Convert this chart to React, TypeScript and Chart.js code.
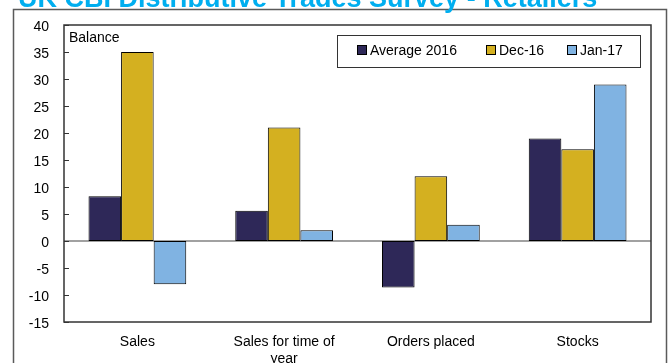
import React, { useEffect, useRef } from "react";
import { Chart, registerables } from "chart.js";

Chart.register(...registerables);

const categories: (string | string[])[] = ["Sales", ["Sales for time of", "year"], "Orders placed", "Stocks"];
const average2016 = [8.3, 5.6, -8.6, 19];
const dec16 = [35, 21, 12, 17];
const jan17 = [-8, 2, 3, 29];
const seriesNames = ["Average 2016", "Dec-16", "Jan-17"];
const seriesColors = ["#2E2858", "#D4B020", "#80B3E2"];
const titleText = "UK CBI Distributive Trades Survey - Retailers";
const yTitle = "Balance";

const FONT = "'Liberation Sans', Arial, sans-serif";

const decorPlugin = {
  id: "decor",
  beforeDatasetsDraw(chart: any) {
    const { ctx, chartArea, scales } = chart;
    const y0 = scales.y.getPixelForValue(0);
    ctx.save();
    ctx.strokeStyle = "#444";
    ctx.lineWidth = 1.2;
    ctx.beginPath();
    ctx.moveTo(chartArea.left, y0);
    ctx.lineTo(chartArea.right, y0);
    ctx.stroke();
    ctx.restore();
  },
  afterDraw(chart: any) {
    const { ctx, chartArea, scales } = chart;
    ctx.save();
    // outer frame
    ctx.strokeStyle = "#5a5a5a";
    ctx.lineWidth = 1.5;
    ctx.strokeRect(13.5, 9.5, 653, 420);
    // title (clipped at top)
    ctx.fillStyle = "#00AEEF";
    ctx.font = `bold 27px ${FONT}`;
    ctx.textBaseline = "alphabetic";
    ctx.textAlign = "left";
    ctx.fillText(titleText, 18, 6.5);
    // plot border
    ctx.strokeStyle = "#333";
    ctx.lineWidth = 1.5;
    ctx.strokeRect(chartArea.left, chartArea.top, chartArea.right - chartArea.left, chartArea.bottom - chartArea.top);
    // inner ticks
    ctx.lineWidth = 1;
    scales.y.ticks.forEach((t: any) => {
      const py = Math.round(scales.y.getPixelForValue(t.value)) + 0.5;
      ctx.beginPath();
      ctx.moveTo(chartArea.left, py);
      ctx.lineTo(chartArea.left + 5, py);
      ctx.stroke();
    });
    // axis title
    ctx.fillStyle = "#000";
    ctx.font = `14px ${FONT}`;
    ctx.textBaseline = "middle";
    ctx.fillText(yTitle, chartArea.left + 5, chartArea.top + 13);
    // legend
    const lx = 337.5, ly = 35.5, lw = 303, lh = 32;
    ctx.fillStyle = "#fff";
    ctx.fillRect(lx, ly, lw, lh);
    ctx.strokeStyle = "#333";
    ctx.lineWidth = 1;
    ctx.strokeRect(lx, ly, lw, lh);
    const starts = [357, 486, 567];
    seriesNames.forEach((name, i) => {
      const sx = starts[i];
      ctx.fillStyle = seriesColors[i];
      ctx.fillRect(sx + 0.5, 45.5, 9, 9);
      ctx.strokeStyle = "#000";
      ctx.strokeRect(sx + 0.5, 45.5, 9, 9);
      ctx.fillStyle = "#000";
      ctx.font = `14px ${FONT}`;
      ctx.textBaseline = "middle";
      ctx.fillText(name, sx + 13, 51);
    });
    ctx.restore();
  },
};

export default function App() {
  const ref = useRef<HTMLCanvasElement | null>(null);
  useEffect(() => {
    if (!ref.current) return;
    const series = [average2016, dec16, jan17];
    const chart = new Chart(ref.current, {
      type: "bar",
      data: {
        labels: categories as any,
        datasets: series.map((d, i) => ({
          label: seriesNames[i],
          data: d,
          backgroundColor: seriesColors[i],
          borderColor: "#000",
          borderWidth: 1,
          borderSkipped: false,
          categoryPercentage: 0.666,
          barPercentage: 1,
        })),
      },
      options: {
        animation: false,
        responsive: false,
        maintainAspectRatio: false,
        layout: { padding: { top: 25, right: 21, left: 0, bottom: 0 } },
        plugins: {
          legend: { display: false },
          title: { display: false },
          tooltip: { enabled: false },
        },
        scales: {
          x: {
            grid: { display: false, drawTicks: false },
            border: { display: false },
            ticks: {
              font: { family: FONT, size: 14 },
              color: "#000",
              padding: 12,
              maxRotation: 0,
              autoSkip: false,
            },
            afterFit: (s: any) => {
              s.height = 41;
            },
          },
          y: {
            min: -15,
            max: 40,
            grid: { display: false, drawTicks: false },
            border: { display: false },
            ticks: {
              stepSize: 5,
              font: { family: FONT, size: 14 },
              color: "#000",
              padding: 15,
              labelOffset: 2,
            },
            afterFit: (s: any) => {
              s.width = 64;
            },
          },
        },
      },
      plugins: [decorPlugin],
    });
    return () => chart.destroy();
  }, []);
  return (
    <div style={{ position: "fixed", left: 0, top: 0, width: 672, height: 363, background: "#fff" }}>
      <canvas ref={ref} width={672} height={363} style={{ width: 672, height: 363, display: "block" }} />
    </div>
  );
}
